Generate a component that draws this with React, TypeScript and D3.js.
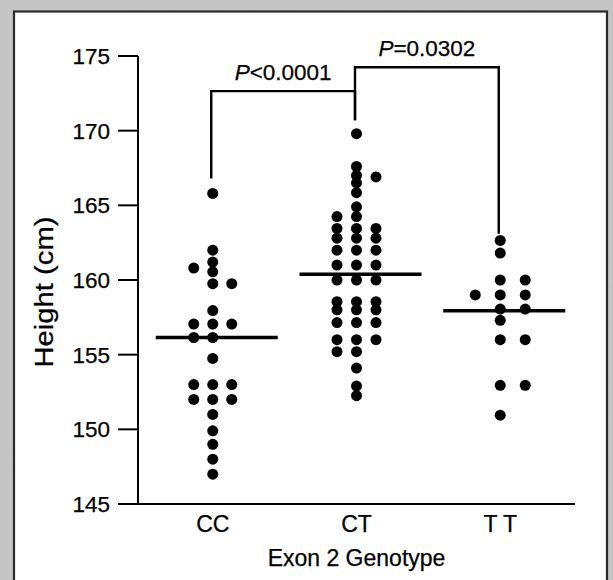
import React from "react";
import * as d3 from "d3";

// ---- data ----
const categories = ["CC", "CT", "TT"];
const categoryLabels = ["CC", "CT", "T T"];
const yTicks = [145, 150, 155, 160, 165, 170, 175];

// [height, column] ; column -1 / 0 / 1 = left / centre / right of the dot stack
const ccPoints: [number, number][] = [
  [165.8, 0], [162.0, 0], [161.2, 0], [160.8, -1], [160.55, 0], [159.75, 0], [159.75, 1],
  [157.95, 0], [157.05, -1], [157.05, 0], [157.05, 1], [156.15, -1], [156.15, 0],
  [154.75, 0], [153.0, -1], [153.0, 0], [153.0, 1], [152.0, -1], [152.0, 0], [152.0, 1],
  [151.0, 0], [149.9, 0], [149.0, 0], [148.0, 0], [147.0, 0],
];
const ctPoints: [number, number][] = [
  [169.8, 0], [167.6, 0], [167.0, 0], [166.5, 0], [165.85, 0], [164.9, 0], [164.25, 0],
  [163.45, 0], [162.8, 0], [162.0, 0], [161.0, 0], [160.0, 0], [158.55, 0], [158.0, 0],
  [157.15, 0], [156.0, 0], [155.2, 0], [154.1, 0], [152.9, 0], [152.25, 0],
  [164.25, -1], [163.45, -1], [162.8, -1], [162.0, -1], [161.0, -1], [160.0, -1],
  [158.55, -1], [158.0, -1], [157.15, -1], [156.0, -1], [155.2, -1],
  [166.9, 1], [163.45, 1], [162.8, 1], [162.0, 1], [161.0, 1], [160.0, 1],
  [158.55, 1], [158.0, 1], [157.15, 1], [156.0, 1],
];
const ttPoints: [number, number][] = [
  [162.65, 0], [161.8, 0], [160.0, 0], [159.0, 0], [158.05, 0], [157.3, 0], [156.0, 0],
  [152.95, 0], [150.95, 0],
  [160.0, 1], [159.0, 1], [158.05, 1], [156.0, 1], [152.95, 1],
  [159.0, -1],
];
const groupPoints = [ccPoints, ctPoints, ttPoints];
const medians = [156.15, 160.38, 157.94];

// significance brackets
const bracketFrom = ["CC", "CT"];
const bracketTo = ["CT", "TT"];
const bracketTop = [172.65, 174.25];
const bracketLeftEnd = [166.8, 170.7];
const bracketRightEnd = [170.7, 163.1];
const bracketOp = ["<", "="];
const bracketValue = ["0.0001", "0.0302"];

export default function App() {
  const W = 613, H = 580;
  const axisLeft = 138, axisRight = 575;
  const y = d3.scaleLinear().domain([145, 175]).range([504, 56]);
  const x = d3.scalePoint<string>().domain(categories).range([axisLeft, axisRight]).padding(0.52);
  const colStep = [19, 19.5, 25];
  const font = "'Liberation Sans', Arial, Helvetica, sans-serif";

  return (
    <svg width={W} height={H} style={{ position: "absolute", left: 0, top: 0 }} fontFamily={font}>
      <defs>
        <filter id="grain" x="0" y="0" width="100%" height="100%">
          <feTurbulence type="fractalNoise" baseFrequency="0.9" numOctaves="2" seed="3" />
          <feColorMatrix type="matrix" values="0 0 0 0 0.5  0 0 0 0 0.5  0 0 0 0 0.5  0 0 0 0.55 0" />
        </filter>
      </defs>
      {/* textured backdrop */}
      <rect x={0} y={0} width={W} height={H} fill="#c6c6c6" />
      <rect x={0} y={0} width={W} height={H} filter="url(#grain)" opacity={0.55} />
      {/* white panel */}
      <rect x={14} y={11.5} width={593} height={H} fill="#fff" stroke="#2a2a2a" strokeWidth={2.2} />

      {/* axes */}
      <line x1={axisLeft} x2={axisLeft} y1={y(175)} y2={y(145)} stroke="#000" strokeWidth={2} />
      <line x1={118} x2={axisRight} y1={y(145)} y2={y(145)} stroke="#000" strokeWidth={2} />
      {yTicks.map((t) => (
        <g key={t}>
          <line x1={118} x2={axisLeft} y1={y(t)} y2={y(t)} stroke="#000" strokeWidth={2} />
          <text x={110} y={y(t)} dy="0.36em" textAnchor="end" fontSize={22.5} fill="#000"
            stroke="#000" strokeWidth={0.25}>
            {t}
          </text>
        </g>
      ))}
      <text
        transform={`translate(53,${y(160) + 12}) rotate(-90)`}
        textAnchor="middle"
        fontSize={25}
        textLength={151}
        lengthAdjust="spacingAndGlyphs"
        fill="#000"
        stroke="#000"
        strokeWidth={0.25}
      >
        Height (cm)
      </text>
      {categories.map((c, i) => (
        <text key={c} x={x(c)!} y={532} textAnchor="middle" fontSize={23} fill="#000"
          stroke="#000" strokeWidth={0.25}>
          {categoryLabels[i]}
        </text>
      ))}
      <text x={(axisLeft + axisRight) / 2} y={566} textAnchor="middle" fontSize={23} fill="#000"
        stroke="#000" strokeWidth={0.25}>
        Exon 2 Genotype
      </text>

      {/* median lines */}
      {categories.map((c, i) => (
        <line key={"m" + c} x1={x(c)! - 57} x2={x(c)! + 65} y1={y(medians[i])} y2={y(medians[i])}
          stroke="#000" strokeWidth={3.5} />
      ))}

      {/* dots */}
      {categories.map((c, i) =>
        groupPoints[i].map(([v, col], j) => (
          <circle key={c + j} cx={x(c)! + col * colStep[i]} cy={y(v)} r={5.5} fill="#000" />
        ))
      )}

      {/* brackets */}
      {bracketFrom.map((f, i) => {
        const x0 = x(f)! - 1.5, x1 = x(bracketTo[i])! - 1.5;
        const p = d3.path();
        p.moveTo(x0, y(bracketLeftEnd[i]));
        p.lineTo(x0, y(bracketTop[i]));
        p.lineTo(x1, y(bracketTop[i]));
        p.lineTo(x1, y(bracketRightEnd[i]));
        return (
          <g key={"b" + i}>
            <path d={p.toString()} fill="none" stroke="#000" strokeWidth={2.4} />
            <text x={(x0 + x1) / 2} y={y(bracketTop[i]) - 11} textAnchor="middle" fontSize={22.5} fill="#000"
              stroke="#000" strokeWidth={0.25}>
              <tspan fontStyle="italic">P</tspan>
              {bracketOp[i] + bracketValue[i]}
            </text>
          </g>
        );
      })}
    </svg>
  );
}
